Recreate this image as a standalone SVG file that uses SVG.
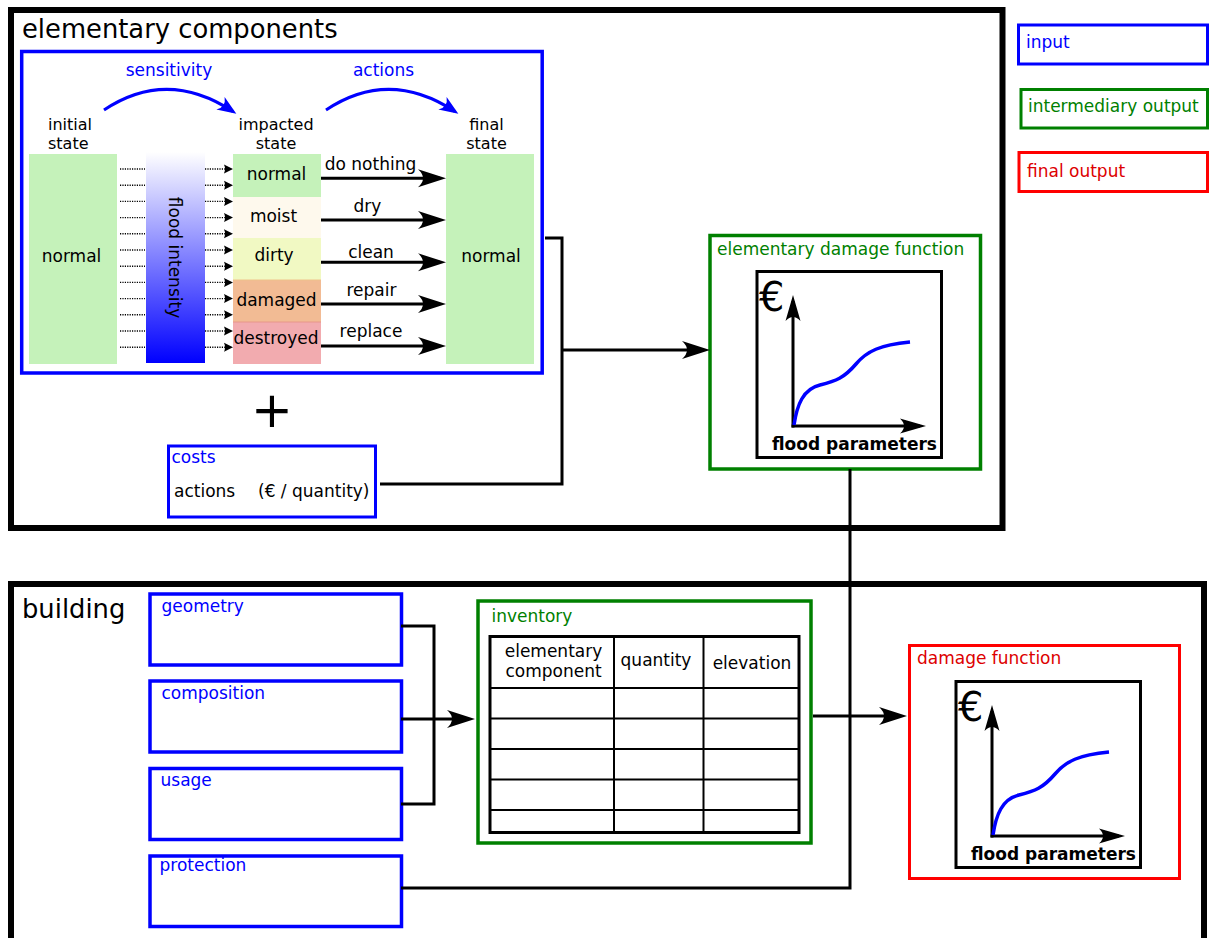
<svg xmlns="http://www.w3.org/2000/svg" width="1209" height="938" viewBox="0 0 1209 938">
<style>
text{font-family:"DejaVu Sans","Liberation Sans",sans-serif;font-size:17px;fill:#000}
.title{font-size:25.8px}
.stack{font-size:16px}
.blue{fill:#0000ff}
.green{fill:#008000}
.red{fill:#dd0000}
.mid{text-anchor:middle}
.bold{font-weight:bold}
.outer{fill:none;stroke:#000;stroke-width:6}
.bbox{fill:#fff;stroke:#0000ff;stroke-width:3.5}
.gbox{fill:#fff;stroke:#008000;stroke-width:3.5}
.rbox{fill:#fff;stroke:#ff0000;stroke-width:3}
.kbox{fill:#fff;stroke:#000;stroke-width:3}
.conn{fill:none;stroke:#000;stroke-width:3}
.dot{fill:none;stroke:#000;stroke-width:1.4;stroke-dasharray:1.2,1.2}
.curve{fill:none;stroke:#0000ff;stroke-width:3.5}
.grid{stroke:#000;stroke-width:2}
</style>
<defs>
<marker id="ah" markerUnits="userSpaceOnUse" viewBox="-24 -10 32 20" markerWidth="32" markerHeight="20" refX="0" refY="0" orient="auto">
<path d="M6,0 L-22,-9 Q-12,0 -22,9 Z" fill="#000"/>
</marker>
<marker id="axh" markerUnits="userSpaceOnUse" viewBox="-24 -10 32 20" markerWidth="32" markerHeight="20" refX="0" refY="0" orient="auto">
<path d="M6,0 L-20,-7.5 Q-12,0 -20,7.5 Z" fill="#000"/>
</marker>
<marker id="sa" markerUnits="userSpaceOnUse" viewBox="-10 -6 14 12" markerWidth="14" markerHeight="12" refX="0" refY="0" orient="auto">
<path d="M4,0 L-5,-4.5 Q-3,0 -5,4.5 Z" fill="#000"/>
</marker>
<marker id="ba" markerUnits="userSpaceOnUse" viewBox="-20 -10 26 20" markerWidth="26" markerHeight="20" refX="0" refY="0" orient="auto">
<path d="M4,0 L-15,-7.5 Q-8,0 -15,7.5 Z" fill="#0000ff"/>
</marker>
<linearGradient id="flood" x1="0" y1="0" x2="0" y2="1">
<stop offset="0" stop-color="#ffffff"/>
<stop offset="1" stop-color="#0000ff"/>
</linearGradient>
</defs>
<rect width="1209" height="938" fill="#fff"/>

<g id="elementary-components">
<rect class="outer" x="11" y="10" width="991.5" height="518"/>
<text class="title" x="22" y="38">elementary components</text>
</g>

<g id="building">
<rect class="outer" x="11" y="584" width="1193" height="400"/>
<text class="title" x="22" y="618">building</text>
</g>

<g id="legend-input">
<rect class="bbox" x="1018.5" y="25" width="189" height="39" style="stroke-width:3"/>
<text class="blue" x="1026" y="48">input</text>
</g>
<g id="legend-intermediary">
<rect class="gbox" x="1021" y="89.5" width="186.5" height="38.5" style="stroke-width:3"/>
<text class="green" x="1028" y="112">intermediary output</text>
</g>
<g id="legend-final">
<rect class="rbox" x="1019" y="152.5" width="188.5" height="39"/>
<text class="red" x="1027" y="177">final output</text>
</g>

<g id="sensitivity-actions">
<rect class="bbox" x="21.7" y="51.5" width="520.5" height="321.5"/>
<text class="blue mid" x="169" y="76">sensitivity</text>
<text class="blue mid" x="383.5" y="76">actions</text>
<path class="curve" style="stroke-width:3" d="M104,110 Q167,68 233,111.5" marker-end="url(#ba)"/>
<path class="curve" style="stroke-width:3" d="M326,110 Q389,68 455,111.5" marker-end="url(#ba)"/>
<text class="stack" x="48" y="130"><tspan x="48" y="130">initial</tspan><tspan x="48" y="149">state</tspan></text>
<text class="stack mid" x="276" y="130"><tspan x="276" y="130">impacted</tspan><tspan x="276" y="149">state</tspan></text>
<text class="stack mid" x="486.5" y="130"><tspan x="486.5" y="130">final</tspan><tspan x="486.5" y="149">state</tspan></text>

<rect x="29" y="154" width="88" height="210" fill="#c5f2ba"/>
<text class="mid" x="71.5" y="262">normal</text>

<rect x="146" y="152" width="59" height="211" fill="url(#flood)"/>
<text class="mid" transform="translate(169,257.5) rotate(90)">flood intensity</text>

<rect x="233" y="154" width="88" height="43" fill="#c5f2ba"/>
<rect x="233" y="197" width="88" height="41" fill="#fef9ed"/>
<rect x="233" y="238" width="88" height="42" fill="#f1f9c3"/>
<rect x="233" y="280" width="88" height="42" fill="#f2bb94"/>
<rect x="233" y="322" width="88" height="42" fill="#f2abaf"/>
<line x1="233" y1="280" x2="321" y2="280" stroke="#eec28a" stroke-width="1"/>
<line x1="233" y1="322" x2="321" y2="322" stroke="#e8968a" stroke-width="1"/>
<text class="mid" x="276.5" y="180">normal</text>
<text class="mid" x="273.5" y="221.5">moist</text>
<text class="mid" x="274" y="261">dirty</text>
<text class="mid" x="276.5" y="305.5">damaged</text>
<text class="mid" x="276" y="344">destroyed</text>

<rect x="446" y="154" width="88" height="210" fill="#c5f2ba"/>
<text class="mid" x="491" y="262">normal</text>

<text class="mid" x="370.5" y="170">do nothing</text>
<text class="mid" x="367.5" y="212">dry</text>
<text class="mid" x="371" y="257.5">clean</text>
<text class="mid" x="371.5" y="295.5">repair</text>
<text class="mid" x="371" y="337">replace</text>
</g>

<g id="plus">
<text class="mid" x="272" y="427" style="font-size:50px">+</text>
</g>

<g id="costs">
<rect class="bbox" x="168.5" y="446" width="207" height="71" style="stroke-width:3"/>
<text class="blue" x="171.5" y="463">costs</text>
<text x="174" y="497">actions</text>
<text x="258" y="497">(€ / quantity)</text>
</g>

<g id="elementary-damage-function">
<rect class="gbox" x="710" y="235.5" width="270.5" height="233.5"/>
<text class="green" x="717" y="255">elementary damage function</text>
<g id="edf-chart">
<rect class="kbox" x="757" y="271.5" width="184.5" height="186"/>
<text x="759" y="311" style="font-size:40px">€</text>
<line x1="793" y1="427.5" x2="793" y2="301" stroke="#000" stroke-width="3" marker-end="url(#axh)"/>
<line x1="791.5" y1="426" x2="920" y2="426" stroke="#000" stroke-width="3" marker-end="url(#axh)"/>
<path class="curve" d="M794,425 C797,405 803,389 820,385 C836,381 844,378 856,364 C867,351 880,345 910,342"/>
<text class="mid bold" x="854.5" y="450">flood parameters</text>
</g>
</g>

<g id="geometry">
<rect class="bbox" x="150" y="594" width="251.5" height="71"/>
<text class="blue" x="161.5" y="612">geometry</text>
</g>
<g id="composition">
<rect class="bbox" x="150" y="681" width="251.5" height="71"/>
<text class="blue" x="161.5" y="699">composition</text>
</g>
<g id="usage">
<rect class="bbox" x="150" y="768.5" width="251.5" height="71"/>
<text class="blue" x="160.5" y="786">usage</text>
</g>
<g id="protection">
<rect class="bbox" x="150" y="856" width="251.5" height="70.5"/>
<text class="blue" x="159.5" y="871">protection</text>
</g>

<g id="inventory">
<rect class="gbox" x="478" y="601" width="333" height="242"/>
<text class="green" x="491.5" y="622">inventory</text>
<line class="grid" x1="614" y1="636.5" x2="614" y2="832.5"/>
<line class="grid" x1="703.5" y1="636.5" x2="703.5" y2="832.5"/>
<line class="grid" x1="490" y1="688" x2="799" y2="688"/>
<line class="grid" x1="490" y1="718.5" x2="799" y2="718.5"/>
<line class="grid" x1="490" y1="749" x2="799" y2="749"/>
<line class="grid" x1="490" y1="779.5" x2="799" y2="779.5"/>
<line class="grid" x1="490" y1="810" x2="799" y2="810"/>
<rect x="490" y="636.5" width="309" height="196" fill="none" stroke="#000" stroke-width="3"/>
<text class="mid" x="553.5" y="656.5"><tspan x="553.5" y="656.5">elementary</tspan><tspan x="553.5" y="677">component</tspan></text>
<text class="mid" x="656" y="666">quantity</text>
<text class="mid" x="752" y="669">elevation</text>
</g>

<g id="damage-function">
<rect class="rbox" x="909.5" y="645.5" width="270" height="233"/>
<text class="red" x="917" y="664">damage function</text>
<g id="df-chart" transform="translate(199,410)">
<rect class="kbox" x="757" y="271.5" width="184.5" height="186"/>
<text x="759" y="311" style="font-size:40px">€</text>
<line x1="793" y1="427.5" x2="793" y2="301" stroke="#000" stroke-width="3" marker-end="url(#axh)"/>
<line x1="791.5" y1="426" x2="920" y2="426" stroke="#000" stroke-width="3" marker-end="url(#axh)"/>
<path class="curve" d="M794,425 C797,405 803,389 820,385 C836,381 844,378 856,364 C867,351 880,345 910,342"/>
<text class="mid bold" x="854.5" y="450">flood parameters</text>
</g>
</g>

<g id="connectors">
<path class="conn" d="M545,238 H562 V484 H380"/>
<path class="conn" d="M562,350 H704" marker-end="url(#ah)"/>
<path class="conn" d="M321,178.3 H440" marker-end="url(#ah)"/>
<path class="conn" d="M321,220 H440" marker-end="url(#ah)"/>
<path class="conn" d="M321,262.3 H440" marker-end="url(#ah)"/>
<path class="conn" d="M321,304 H440" marker-end="url(#ah)"/>
<path class="conn" d="M321,346 H440" marker-end="url(#ah)"/>
<path class="conn" d="M401,626 H434 V804 H401"/>
<path class="conn" d="M401,719 H469" marker-end="url(#ah)"/>
<path class="conn" d="M813,716 H901" marker-end="url(#ah)"/>
<path class="conn" d="M401,888 H850 V469"/>
<g id="dotted">
<path class="dot" d="M120,169 H145 M120,185.2 H145 M120,201.4 H145 M120,217.6 H145 M120,233.8 H145 M120,250 H145 M120,266.2 H145 M120,282.4 H145 M120,298.6 H145 M120,314.8 H145 M120,331 H145 M120,347.2 H145"/>
<path class="dot" d="M205,169 H229" marker-end="url(#sa)"/>
<path class="dot" d="M205,185.2 H229" marker-end="url(#sa)"/>
<path class="dot" d="M205,201.4 H229" marker-end="url(#sa)"/>
<path class="dot" d="M205,217.6 H229" marker-end="url(#sa)"/>
<path class="dot" d="M205,233.8 H229" marker-end="url(#sa)"/>
<path class="dot" d="M205,250 H229" marker-end="url(#sa)"/>
<path class="dot" d="M205,266.2 H229" marker-end="url(#sa)"/>
<path class="dot" d="M205,282.4 H229" marker-end="url(#sa)"/>
<path class="dot" d="M205,298.6 H229" marker-end="url(#sa)"/>
<path class="dot" d="M205,314.8 H229" marker-end="url(#sa)"/>
<path class="dot" d="M205,331 H229" marker-end="url(#sa)"/>
<path class="dot" d="M205,347.2 H229" marker-end="url(#sa)"/>
</g>
</g>
</svg>
